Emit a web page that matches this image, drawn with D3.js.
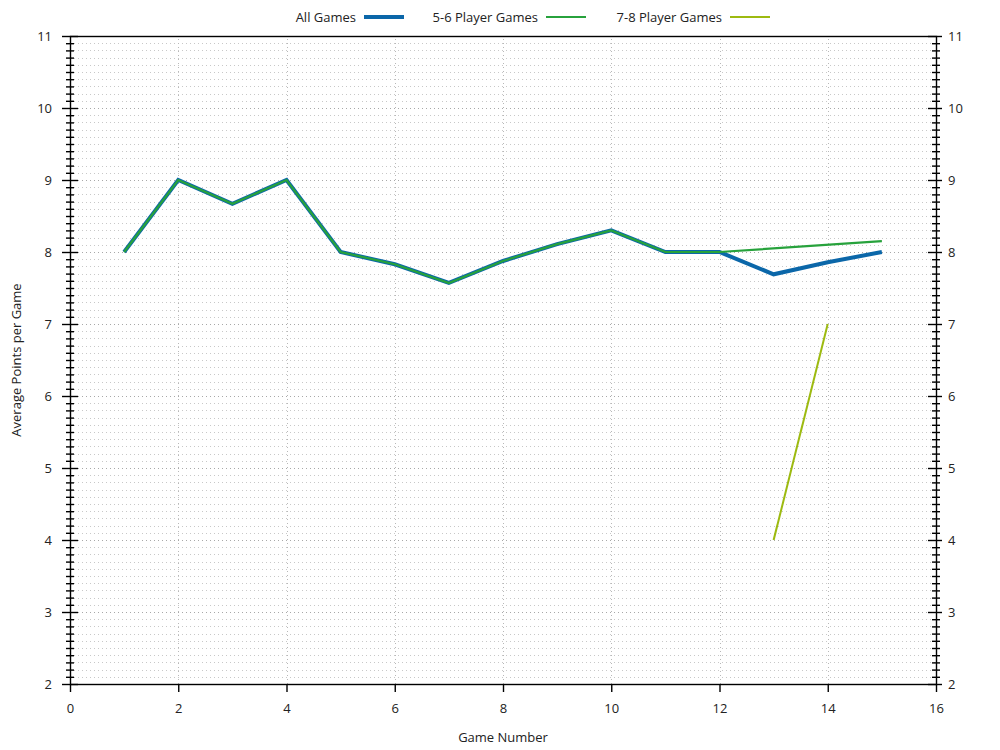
<!DOCTYPE html>
<html>
<head>
<meta charset="utf-8">
<script src="https://cdn.jsdelivr.net/npm/d3@7"></script>
<style>
  body { margin: 0; background: #fff; }
  text { font-family: 'Open Sans', 'Noto Sans', sans-serif; fill: #222; }
</style>
</head>
<body>
<div id="chart"></div>
<script>
// data
const allGames = [
  [1, 8], [2, 9], [3, 8.67], [4, 9], [5, 8], [6, 7.83], [7, 7.57], [8, 7.875],
  [9, 8.11], [10, 8.3], [11, 8], [12, 8], [13, 7.69], [14, 7.857], [15, 8]
];
const games56 = [
  [1, 8], [2, 9], [3, 8.67], [4, 9], [5, 8], [6, 7.83], [7, 7.57], [8, 7.875],
  [9, 8.11], [10, 8.3], [11, 8], [12, 8], [15, 8.15]
];
const games78 = [[13, 4], [14, 7]];

const seriesNames = ['All Games', '5-6 Player Games', '7-8 Player Games'];
const seriesColors = ['#0b67a9', '#27a23c', '#9dba10'];
const xTicks = [0, 2, 4, 6, 8, 10, 12, 14, 16];
const yTicks = [2, 3, 4, 5, 6, 7, 8, 9, 10, 11];

const width = 1000, height = 750;
const margin = { top: 36, right: 64, bottom: 66, left: 70 };

const svg = d3.select('#chart').append('svg')
  .attr('width', width).attr('height', height);

const x = d3.scaleLinear().domain([0, 16]).range([margin.left, width - margin.right]);
const y = d3.scaleLinear().domain([2, 11]).range([height - margin.bottom, margin.top]);

const minorY = d3.range(20, 111).map(d => d / 10).filter(d => Math.abs(d - Math.round(d)) > 1e-6);

// grid
const grid = svg.append('g');
grid.selectAll('.hminor').data(minorY).join('line')
  .attr('x1', x(0)).attr('x2', x(16))
  .attr('y1', d => Math.round(y(d)) + 0.5).attr('y2', d => Math.round(y(d)) + 0.5)
  .attr('stroke', '#c8c8c8').attr('stroke-dasharray', '1,3');
grid.selectAll('.hmajor').data(yTicks).join('line')
  .attr('x1', x(0)).attr('x2', x(16))
  .attr('y1', d => Math.round(y(d)) + 0.5).attr('y2', d => Math.round(y(d)) + 0.5)
  .attr('stroke', '#a8a8a8').attr('stroke-dasharray', '1,3');
grid.selectAll('.vmajor').data(xTicks.slice(1, -1)).join('line')
  .attr('x1', d => Math.round(x(d)) + 0.5).attr('x2', d => Math.round(x(d)) + 0.5)
  .attr('y1', y(2)).attr('y2', y(11))
  .attr('stroke', '#b8b8b8').attr('stroke-dasharray', '1,3');

// frame
svg.append('rect')
  .attr('x', x(0) + 0.5).attr('y', y(11) + 0.5)
  .attr('width', x(16) - x(0)).attr('height', y(2) - y(11))
  .attr('fill', 'none').attr('stroke', '#000').attr('stroke-width', 1.4);

function styleAxis(g, inner, outer, side) {
  g.select('.domain').remove();
  g.selectAll('.tick line').attr('stroke', '#000').attr('stroke-width', 1.4);
  g.selectAll('.tick text').style('font-size', '13px');
  if (side === 'left') g.selectAll('.tick line').attr('x1', inner).attr('x2', -outer);
  if (side === 'right') g.selectAll('.tick line').attr('x1', -inner).attr('x2', outer);
}

// left axis
svg.append('g').attr('transform', `translate(${x(0)},0)`)
  .call(d3.axisLeft(y).tickValues(minorY).tickFormat('').tickSize(4))
  .call(g => styleAxis(g, 4, 4, 'left'));
svg.append('g').attr('transform', `translate(${x(0)},0)`)
  .call(d3.axisLeft(y).tickValues(yTicks).tickFormat(d3.format('d')).tickSize(8).tickPadding(10))
  .call(g => styleAxis(g, 8, 8, 'left'));

// right axis
svg.append('g').attr('transform', `translate(${x(16)},0)`)
  .call(d3.axisRight(y).tickValues(minorY).tickFormat('').tickSize(4))
  .call(g => styleAxis(g, 4, 4, 'right'));
svg.append('g').attr('transform', `translate(${x(16)},0)`)
  .call(d3.axisRight(y).tickValues(yTicks).tickFormat(d3.format('d')).tickSize(8).tickPadding(4))
  .call(g => styleAxis(g, 8, 6, 'right'));

// bottom axis
svg.append('g').attr('transform', `translate(0,${y(2)})`)
  .call(d3.axisBottom(x).tickValues(xTicks).tickFormat(d3.format('d')).tickSize(8).tickPadding(12))
  .call(g => styleAxis(g, 0, 8, 'bottom'));

// lines
const line = d3.line().x(d => x(d[0])).y(d => y(d[1]));
const allSeries = [allGames, games56, games78];
const widths = [4, 2.2, 2];
allSeries.forEach((s, i) => {
  svg.append('path').datum(s)
    .attr('d', line)
    .attr('fill', 'none')
    .attr('stroke', seriesColors[i])
    .attr('stroke-width', widths[i])
    .attr('stroke-linejoin', 'miter');
});

// axis titles
svg.append('text')
  .attr('x', (x(0) + x(16)) / 2).attr('y', 742)
  .attr('text-anchor', 'middle').style('font-size', '13px')
  .text('Game Number');
svg.append('text')
  .attr('transform', `translate(21,${(y(2) + y(11)) / 2}) rotate(-90)`)
  .attr('text-anchor', 'middle').style('font-size', '13px')
  .text('Average Points per Game');

// legend
const legendX = [356, 538, 722];
const legend = svg.append('g');
seriesNames.forEach((name, i) => {
  legend.append('text')
    .attr('x', legendX[i]).attr('y', 22)
    .attr('text-anchor', 'end').style('font-size', '13px')
    .text(name);
  legend.append('line')
    .attr('x1', legendX[i] + 8).attr('x2', legendX[i] + 48)
    .attr('y1', 17).attr('y2', 17)
    .attr('stroke', seriesColors[i]).attr('stroke-width', widths[i]);
});
</script>
</body>
</html>
